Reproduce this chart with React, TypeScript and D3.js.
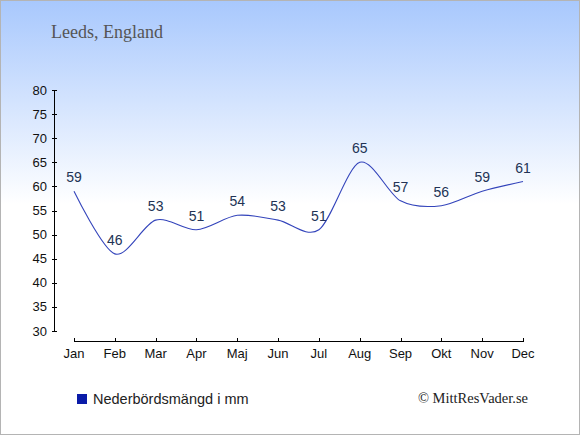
import * as d3 from "d3";

const MONTHS = ["Jan", "Feb", "Mar", "Apr", "Maj", "Jun", "Jul", "Aug", "Sep", "Okt", "Nov", "Dec"];
const RAIN = [59, 46, 53, 51, 54, 53, 51, 65, 57, 56, 59, 61];
const Y_TICKS = [30, 35, 40, 45, 50, 55, 60, 65, 70, 75, 80];

const W = 580;
const H = 435;

export default function App() {
  const x = d3.scalePoint<string>().domain(MONTHS).range([74, 523]);
  const y = d3.scaleLinear().domain([30, 80]).range([331, 90]);
  const pts = MONTHS.map((m, i) => ({ m, v: RAIN[i] }));
  const line = d3
    .line<{ m: string; v: number }>()
    .x((d) => x(d.m)!)
    .y((d) => y(d.v))
    .curve(d3.curveCardinal.tension(0.1));

  return (
    <svg
      width={W}
      height={H}
      style={{ position: "absolute", left: 0, top: 0, fontFamily: "Arial, 'Liberation Sans', sans-serif" }}
    >
      <defs>
        <linearGradient id="bg" x1="0" y1="0" x2="0" y2="1">
          <stop offset="0" stopColor="#a8c8fd" />
          <stop offset="0.47" stopColor="#ffffff" />
          <stop offset="1" stopColor="#ffffff" />
        </linearGradient>
      </defs>
      <rect x={0.5} y={0.5} width={W - 1} height={H - 1} fill="url(#bg)" stroke="#b4b4b4" />
      <text x={51} y={38} fontFamily="'Liberation Serif', 'Times New Roman', serif" fontSize={18} fill="#555">
        Leeds, England
      </text>

      {/* Y axis */}
      <line x1={54.5} x2={54.5} y1={y(80)} y2={y(30)} stroke="#000" />
      {Y_TICKS.map((t) => (
        <g key={t}>
          <line x1={52} x2={57} y1={Math.round(y(t)) + 0.5} y2={Math.round(y(t)) + 0.5} stroke="#000" />
          <text x={47} y={y(t) + 4.5} textAnchor="end" fontSize={13} fill="#111">
            {t}
          </text>
        </g>
      ))}

      {/* X axis */}
      <line x1={x("Jan")!} x2={x("Dec")!} y1={341.5} y2={341.5} stroke="#000" />
      {MONTHS.map((m) => (
        <g key={m}>
          <line x1={Math.round(x(m)!) + 0.5} x2={Math.round(x(m)!) + 0.5} y1={338} y2={342} stroke="#000" />
          <text x={x(m)!} y={358} textAnchor="middle" fontSize={13} fill="#111">
            {m}
          </text>
        </g>
      ))}

      <path d={line(pts) ?? ""} fill="none" stroke="#3344bb" strokeWidth={1.1} />
      {pts.map((p) => (
        <text key={p.m} x={x(p.m)!} y={y(p.v) - 9} textAnchor="middle" fontSize={14} fill="#223355">
          {p.v}
        </text>
      ))}

      {/* Legend */}
      <rect x={77} y={394} width={10} height={10} fill="#0a1ba8" />
      <text x={93} y={403.5} fontSize={14.5} fill="#222">
        Nederbördsmängd i mm
      </text>
      <text x={528} y={403} textAnchor="end" fontFamily="'Liberation Serif', 'Times New Roman', serif" fontSize={14.5} fill="#222">
        © MittResVader.se
      </text>
    </svg>
  );
}
